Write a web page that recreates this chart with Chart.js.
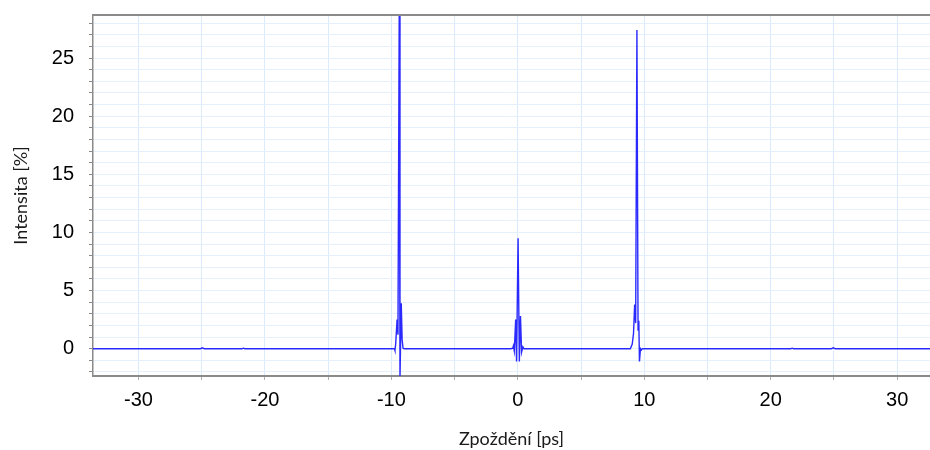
<!DOCTYPE html>
<html>
<head>
<meta charset="utf-8">
<script src="https://cdn.jsdelivr.net/npm/chart.js@4/dist/chart.umd.min.js"></script>
<style>
  html, body { margin: 0; padding: 0; background: #ffffff; }
  #wrap { width: 930px; height: 450px; position: relative; }
</style>
</head>
<body>
<div id="wrap"><canvas id="c"></canvas></div>
<script>
// Delay values [ps]
const delays = [
  -33.6, -25.1, -24.95, -24.8, -21.8, -21.7, -21.6,
  -9.90, -9.76, -9.72, -9.66, -9.55, -9.48, -9.38, -9.32, -9.22, -9.15, -9.08, -9.00,
  -0.55, -0.40, -0.35, -0.28, -0.17, -0.10, 0.02, 0.12, 0.21, 0.30, 0.40, 0.48,
  8.90, 9.05, 9.15, 9.24, 9.32, 9.42, 9.51, 9.57, 9.62, 9.70, 9.77, 9.85,
  21.6, 21.7, 21.8, 24.8, 24.95, 25.1, 32.6
];
// Intensity values [%]
const intensities = [
  0, 0, 0.07, 0, 0, 0.04, 0,
  0, 0, -0.15, 0.4, 2.5, 1.2, 28.9, -2.6, 3.9, 0.8, 0.05, 0,
  0, 0.05, 0.25, -0.2, 2.5, -1.1, 9.5, -1.1, 2.8, -0.3, 0.15, 0,
  0, 0.4, 1.3, 3.8, 2.2, 27.4, 1.6, 2.4, -1.1, 0.0, -0.12, 0,
  0, 0.04, 0, 0, 0.07, 0, 0
];
// Tick values
const xTickValues = [-30, -25, -20, -15, -10, -5, 0, 5, 10, 15, 20, 25, 30];
const xLabelValues = [-30, -20, -10, 0, 10, 20, 30];
const yTickValues = [-2, -1, 0, 1, 2, 3, 4, 5, 6, 7, 8, 9, 10, 11, 12, 13, 14, 15, 16, 17, 18, 19, 20, 21, 22, 23, 24, 25, 26, 27, 28];
const yLabelValues = [0, 5, 10, 15, 20, 25];
const xRange = [-33.6, 32.6];
const yRange = [-2.35, 28.7];
const xTitle = 'Zpoždění [ps]';
const yTitle = 'Intensita [%]';

const points = delays.map((d, i) => ({ x: d, y: intensities[i] }));

const topFrame = {
  id: 'topFrame',
  afterDraw(chart) {
    const { ctx, chartArea } = chart;
    ctx.save();
    ctx.strokeStyle = '#8a8a8a';
    ctx.lineWidth = 2;
    ctx.beginPath();
    ctx.moveTo(chartArea.left, chartArea.top);
    ctx.lineTo(chartArea.right, chartArea.top);
    ctx.stroke();
    ctx.restore();
  }
};

new Chart(document.getElementById('c'), {
  type: 'line',
  data: {
    datasets: [{
      data: points,
      borderColor: '#2a2aff',
      borderWidth: 1.4,
      pointRadius: 0,
      tension: 0,
      fill: false
    }]
  },
  options: {
    responsive: true,
    maintainAspectRatio: false,
    animation: false,
    devicePixelRatio: 1,
    layout: { padding: { top: 15, right: 0, left: 0, bottom: 0 } },
    plugins: { legend: { display: false }, tooltip: { enabled: false } },
    scales: {
      x: {
        type: 'linear',
        min: xRange[0],
        max: xRange[1],
        afterBuildTicks: (s) => { s.ticks = xTickValues.map(v => ({ value: v })); },
        afterFit: (s) => { s.height = 74; s.paddingLeft = 0; s.paddingRight = 0; },
        ticks: {
          autoSkip: false,
          maxRotation: 0,
          padding: 8,
          color: '#000000',
          font: { family: 'Liberation Sans, Arial, sans-serif', size: 20 },
          callback: (v) => xLabelValues.includes(v) ? String(v) : ''
        },
        grid: { color: '#d9ebfc', lineWidth: 1, tickLength: 4, tickColor: '#b0b0b0' },
        border: { color: '#8a8a8a', width: 2 },
        title: {
          display: true,
          text: xTitle,
          color: '#1a1a1a',
          font: { family: 'Lato, sans-serif', size: 18 },
          padding: { top: 0, bottom: 0 }
        }
      },
      y: {
        type: 'linear',
        min: yRange[0],
        max: yRange[1],
        afterBuildTicks: (s) => { s.ticks = yTickValues.map(v => ({ value: v })); },
        afterFit: (s) => { s.width = 93; s.paddingTop = 0; s.paddingBottom = 0; },
        ticks: {
          autoSkip: false,
          padding: 15,
          color: '#000000',
          font: { family: 'Liberation Sans, Arial, sans-serif', size: 20 },
          callback: (v) => yLabelValues.includes(v) ? String(v) : ''
        },
        grid: { color: '#e4f1fc', lineWidth: 1, tickLength: 4, tickColor: '#8a8a8a' },
        border: { color: '#8a8a8a', width: 1.5 },
        title: {
          display: true,
          text: yTitle,
          color: '#1a1a1a',
          font: { family: 'Lato, sans-serif', size: 18 },
          padding: { top: 10, bottom: 0 }
        }
      }
    }
  },
  plugins: [topFrame]
});
</script>
</body>
</html>
